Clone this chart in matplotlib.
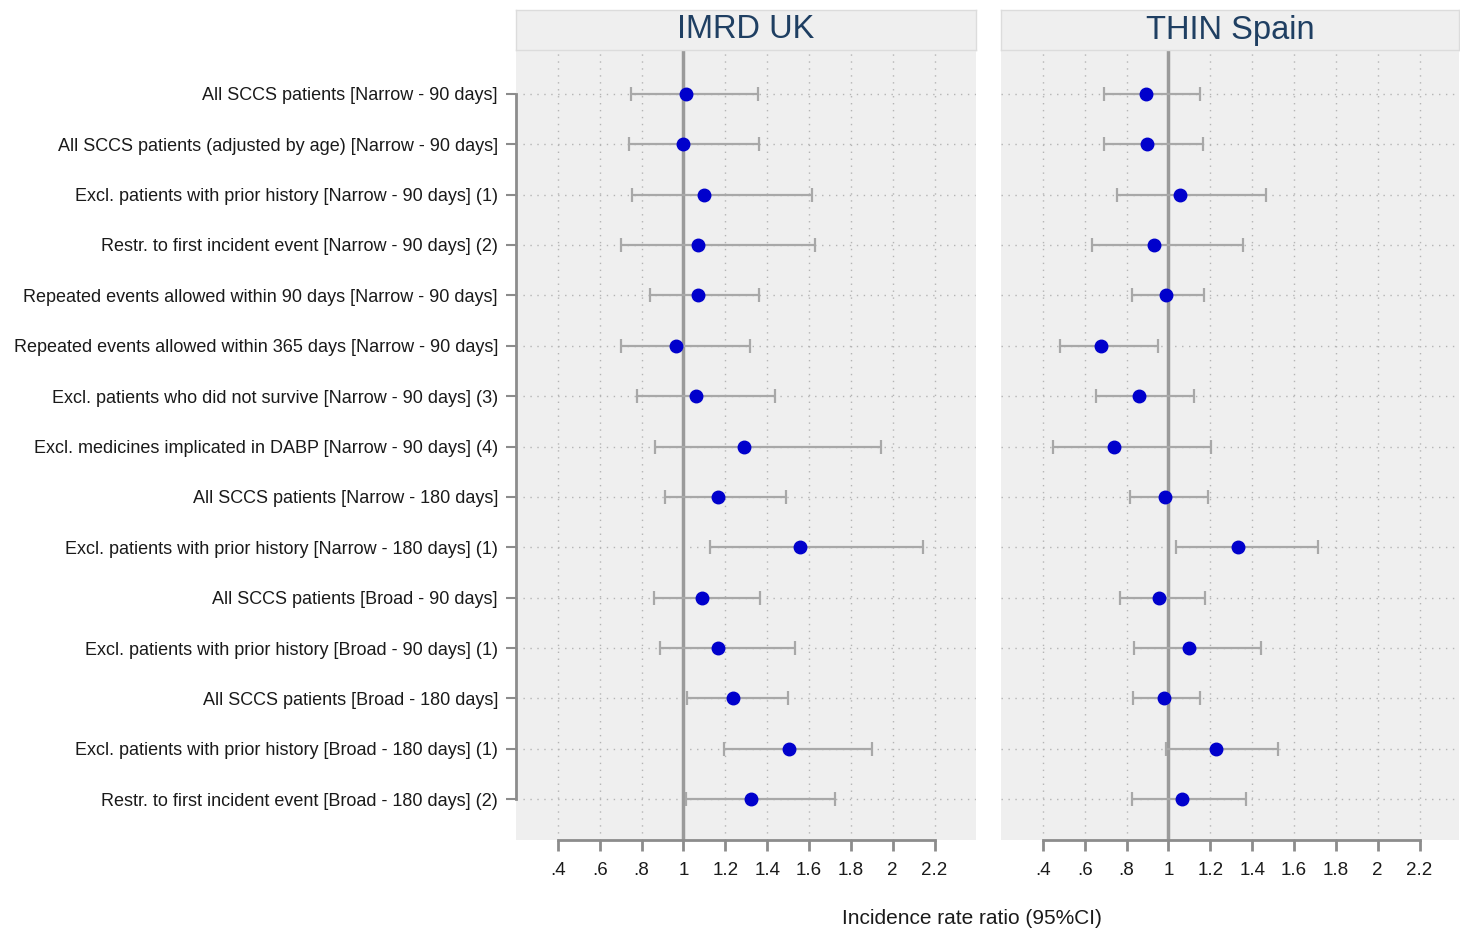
import matplotlib
matplotlib.use('Agg')
import matplotlib.pyplot as plt
import numpy as np

plt.rcParams['font.family'] = ['Liberation Sans', 'DejaVu Sans']

# analysis labels (top to bottom)
labels = [
    'All SCCS patients [Narrow - 90 days]',
    'All SCCS patients (adjusted by age) [Narrow - 90 days]',
    'Excl. patients with prior history [Narrow - 90 days] (1)',
    'Restr. to first incident event [Narrow - 90 days] (2)',
    'Repeated events allowed within 90 days [Narrow - 90 days]',
    'Repeated events allowed within 365 days [Narrow - 90 days]',
    'Excl. patients who did not survive [Narrow - 90 days] (3)',
    'Excl. medicines implicated in DABP [Narrow - 90 days] (4)',
    'All SCCS patients [Narrow - 180 days]',
    'Excl. patients with prior history [Narrow - 180 days] (1)',
    'All SCCS patients [Broad - 90 days]',
    'Excl. patients with prior history [Broad - 90 days] (1)',
    'All SCCS patients [Broad - 180 days]',
    'Excl. patients with prior history [Broad - 180 days] (1)',
    'Restr. to first incident event [Broad - 180 days] (2)',
]

# IMRD UK
uk_irr = [1.01, 1.00, 1.10, 1.07, 1.07, 0.965, 1.06, 1.29, 1.166, 1.556, 1.088, 1.166, 1.235, 1.503, 1.321]
uk_lo = [0.75, 0.74, 0.753, 0.70, 0.842, 0.70, 0.777, 0.864, 0.914, 1.128, 0.861, 0.887, 1.017, 1.194, 1.011]
uk_hi = [1.357, 1.36, 1.613, 1.627, 1.36, 1.32, 1.436, 1.944, 1.489, 2.143, 1.368, 1.532, 1.50, 1.90, 1.723]

# THIN Spain
es_irr = [0.892, 0.896, 1.053, 0.93, 0.986, 0.678, 0.859, 0.74, 0.984, 1.334, 0.954, 1.099, 0.978, 1.228, 1.066]
es_lo = [0.69, 0.69, 0.755, 0.637, 0.828, 0.484, 0.654, 0.45, 0.814, 1.038, 0.77, 0.836, 0.831, 0.988, 0.828]
es_hi = [1.151, 1.163, 1.467, 1.358, 1.171, 0.949, 1.121, 1.204, 1.19, 1.715, 1.175, 1.443, 1.151, 1.525, 1.369]

panels = ['IMRD UK', 'THIN Spain']
xticks = [0.4, 0.6, 0.8, 1.0, 1.2, 1.4, 1.6, 1.8, 2.0, 2.2]
xticklabels = ['.4', '.6', '.8', '1', '1.2', '1.4', '1.6', '1.8', '2', '2.2']

W, H = 1460, 932
fig = plt.figure(figsize=(W / 100, H / 100), dpi=100)

bg = '#efefef'
grid_c = '#b4b4b4'
axis_c = '#8c8c8c'
text_c = '#1a1a1a'

y = np.arange(1, len(labels) + 1)

# panel left edge and width in pixels
panel_px = [(516, 460), (1001, 458)]
data = [(uk_irr, uk_lo, uk_hi), (es_irr, es_lo, es_hi)]

for i, (name, (x0, w), (irr, lo, hi)) in enumerate(zip(panels, panel_px, data)):
    ax = fig.add_axes([x0 / W, (H - 840) / H, w / W, 789 / H])
    ax.set_facecolor(bg)
    ax.set_xlim(0.2, 0.2 + w / 209.3)
    ax.set_ylim(15.81, 0.15)

    # grid
    for xt in xticks:
        if xt != 1.0:
            ax.axvline(xt, color=grid_c, lw=1, ls=(0, (1, 4)), zorder=1)
    for yy in y:
        ax.axhline(yy, color=grid_c, lw=1, ls=(0, (1, 4)), zorder=1)
    ax.axvline(1.0, color='#9a9a9a', lw=2.5, zorder=2)

    err = np.array([np.array(irr) - np.array(lo), np.array(hi) - np.array(irr)])
    ax.errorbar(irr, y, xerr=err, fmt='none', ecolor='#a8a8a8', elinewidth=1.6,
                capsize=5, capthick=1.6, zorder=3)
    ax.plot(irr, y, 'o', color='#0000cc', markersize=9, zorder=4)

    for s in ['top', 'right']:
        ax.spines[s].set_visible(False)
    ax.spines['bottom'].set_color(axis_c)
    ax.spines['bottom'].set_linewidth(2)
    ax.spines['bottom'].set_bounds(0.4, 2.2)
    ax.set_xticks(xticks)
    ax.set_xticklabels(xticklabels, fontsize=13.5, color=text_c)
    ax.tick_params(axis='x', direction='out', length=8, width=2, color=axis_c, pad=8)

    if i == 0:
        ax.spines['left'].set_color(axis_c)
        ax.spines['left'].set_linewidth(2)
        ax.spines['left'].set_bounds(1, 15)
        ax.set_yticks(y)
        ax.set_yticklabels(labels, fontsize=13, color=text_c)
        ax.tick_params(axis='y', direction='out', length=7, width=1.5, color=axis_c, pad=6)
    else:
        ax.spines['left'].set_visible(False)
        ax.set_yticks([])

    # title strip
    st = fig.add_axes([x0 / W, (H - 50) / H, w / W, 40 / H])
    st.set_facecolor(bg)
    st.set_xticks([])
    st.set_yticks([])
    for s in st.spines.values():
        s.set_color('#dcdcdc')
        s.set_linewidth(1)
    st.text(0.5, 0.5, name, ha='center', va='center', fontsize=23.5, color='#1f3f62',
            transform=st.transAxes)

fig.text(972 / W, (H - 919) / H, 'Incidence rate ratio (95%CI)', ha='center', va='center',
         fontsize=15, color=text_c)

fig.savefig('out.png', dpi=100, facecolor='white')
